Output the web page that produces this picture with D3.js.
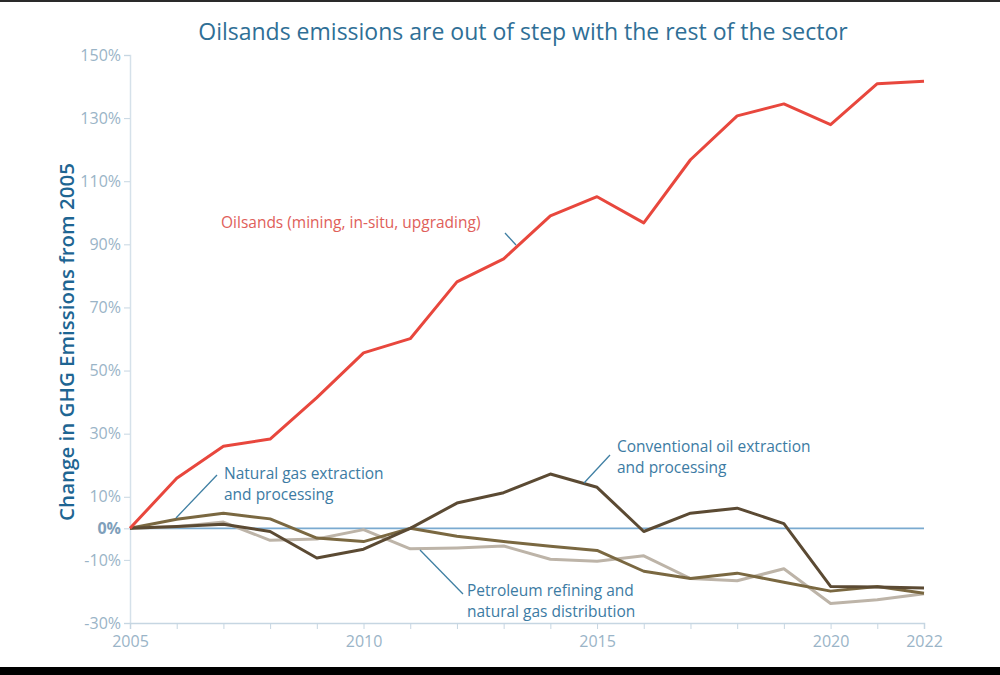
<!DOCTYPE html>
<html>
<head>
<meta charset="utf-8">
<script src="https://cdn.jsdelivr.net/npm/d3@7"></script>
<style>
  html, body { margin: 0; padding: 0; background: #fff; }
  svg { display: block; font-family: "Open Sans", "Noto Sans", sans-serif; }
</style>
</head>
<body>
<svg id="chart" width="1000" height="675"></svg>
<script>
const years = d3.range(2005, 2023);
const oilsands =     [0, 15.9, 26.0, 28.3, 41.4, 55.6, 60.1, 78.1, 85.4, 99.0, 105.1, 96.8, 116.8, 130.7, 134.5, 127.9, 140.9, 141.7];
const conventional = [0, 0.6, 1.3, -1.0, -9.4, -6.6, 0, 8.0, 11.3, 17.2, 13.0, -1.0, 4.8, 6.4, 1.5, -18.4, -18.6, -18.9];
const naturalGas =   [0, 2.9, 4.8, 3.0, -3.1, -4.2, 0, -2.5, -4.2, -5.7, -7.0, -13.6, -15.9, -14.2, -17.1, -19.9, -18.4, -20.6];
const refining =     [0, 0.5, 2.0, -3.8, -3.4, -0.4, -6.5, -6.2, -5.6, -9.8, -10.4, -8.7, -15.9, -16.6, -12.8, -23.8, -22.6, -20.7];
const yTicks = [150, 130, 110, 90, 70, 50, 30, 10, 0, -10, -30];
const xTickLabels = [2005, 2010, 2015, 2020, 2022];

const title = "Oilsands emissions are out of step with the rest of the sector";
const yLabel = "Change in GHG Emissions from 2005";

const svg = d3.select("#chart");
const x = d3.scaleLinear().domain([2005, 2022]).range([130, 924]);
const y = d3.scaleLinear().domain([-30, 150]).range([623, 55]);

// frame bands
svg.append("rect").attr("x", 0).attr("y", 0).attr("width", 1000).attr("height", 2).attr("fill", "#2a2a2a");
svg.append("rect").attr("x", 0).attr("y", 667).attr("width", 1000).attr("height", 8).attr("fill", "#000");

// title
svg.append("text").attr("x", 523).attr("y", 40).attr("text-anchor", "middle")
  .attr("font-size", 23).attr("fill", "#2f6f96").text(title);

// y axis
const yAxis = svg.append("g").attr("transform", `translate(${x(2005)},0)`)
  .call(d3.axisLeft(y).tickValues(yTicks).tickSize(6).tickPadding(3).tickFormat(d => d + "%"));
yAxis.select(".domain").attr("stroke", "#d5e1ea").attr("stroke-width", 1.5);
yAxis.selectAll(".tick line").attr("stroke", "#c6d6e2");
yAxis.selectAll(".tick text").attr("font-size", 16).attr("fill", "#9ab4c7")
  .attr("font-family", "'Open Sans', sans-serif");
yAxis.selectAll(".tick text").filter(d => d === 0).attr("font-weight", "bold").attr("fill", "#7fa0bb");

// x axis
const xAxis = svg.append("g").attr("transform", `translate(0,${y(-30)})`)
  .call(d3.axisBottom(x).tickValues(years).tickSize(6).tickPadding(7)
    .tickFormat(d => xTickLabels.includes(d) ? String(d) : ""));
xAxis.select(".domain").attr("stroke", "#c6d6e2").attr("stroke-width", 1.5);
xAxis.selectAll(".tick line").attr("stroke", "#c6d6e2");
xAxis.selectAll(".tick text").attr("font-size", 16).attr("fill", "#9ab4c7")
  .attr("font-family", "'Open Sans', sans-serif");

// y label
svg.append("text").attr("transform", `translate(74,342) rotate(-90)`).attr("text-anchor", "middle")
  .attr("font-size", 20.5).attr("font-weight", 600).attr("fill", "#1e6592").text(yLabel);

// zero line
svg.append("line").attr("x1", x(2005)).attr("x2", x(2022)).attr("y1", y(0)).attr("y2", y(0))
  .attr("stroke", "#7aaad0").attr("stroke-width", 1.6);

const line = d3.line().x((d, i) => x(years[i])).y(d => y(d));
const series = [
  { values: refining, color: "#bdb4a8" },
  { values: naturalGas, color: "#7a6841" },
  { values: conventional, color: "#5b4a33" },
  { values: oilsands, color: "#e8473d" }
];
series.forEach(s => {
  svg.append("path").datum(s.values).attr("d", line).attr("fill", "none")
    .attr("stroke", s.color).attr("stroke-width", 3).attr("stroke-linejoin", "round");
});

// annotations
const leader = "#3f7fa3";
function lead(x1, y1, x2, y2) {
  svg.append("line").attr("x1", x1).attr("y1", y1).attr("x2", x2).attr("y2", y2)
    .attr("stroke", leader).attr("stroke-width", 1.3);
}
function label(xp, yp, lines, color) {
  lines.forEach((l, i) => {
    svg.append("text").attr("x", xp).attr("y", yp + i * 21.3)
      .attr("font-size", 15.5).attr("fill", color).text(l);
  });
}
label(221, 228, ["Oilsands (mining, in-situ, upgrading)"], "#e0605a");
lead(505, 233, 516, 245);
label(224, 479, ["Natural gas extraction", "and processing"], "#3c7ba3");
lead(217, 475, 176, 518);
label(617, 452, ["Conventional oil extraction", "and processing"], "#3c7ba3");
lead(610, 455, 584, 483);
label(467, 596, ["Petroleum refining and", "natural gas distribution"], "#3c7ba3");
lead(463, 594, 420, 550);
</script>
</body>
</html>
